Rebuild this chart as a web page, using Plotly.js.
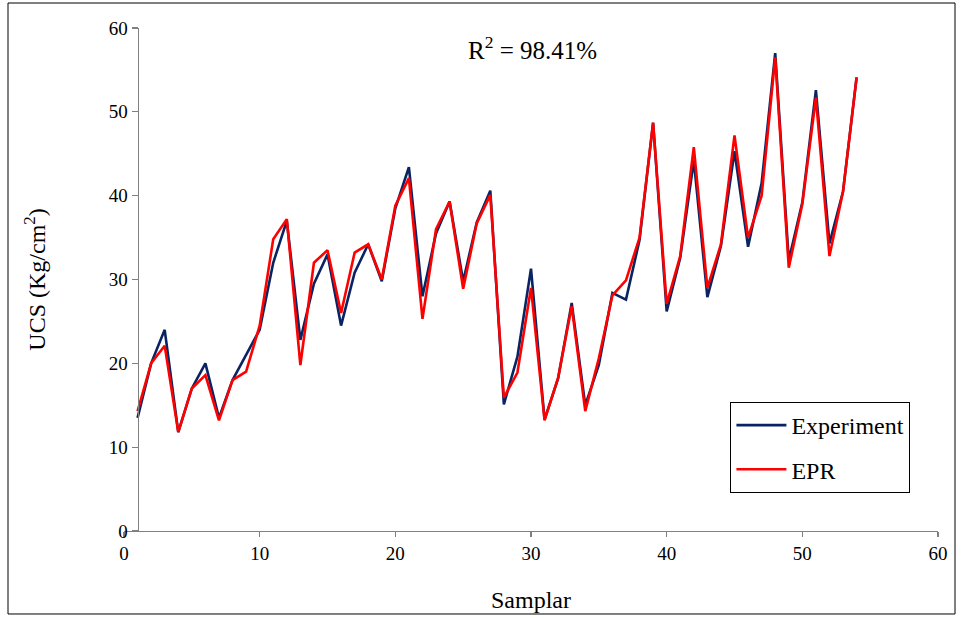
<!DOCTYPE html>
<html>
<head>
<meta charset="utf-8">
<script src="https://cdn.plot.ly/plotly-3.0.1.min.js"></script>
<style>html,body{margin:0;padding:0;background:#fff;}#chart{width:966px;height:618px;}</style>
</head>
<body>
<div id="chart"></div>
<script>
const samples = Array.from({length: 54}, (_, i) => i + 1);
const experiment = [13.5, 20, 24, 11.8, 17, 20, 13.5, 18, 21, 24,
  32, 37, 22.8, 29.5, 33, 24.5, 30.8, 34.2, 29.8, 38.5,
  43.4, 28, 35.5, 39.3, 29.8, 36.8, 40.6, 15.1, 20.8, 31.3,
  13.3, 18.2, 27.2, 15.0, 19.8, 28.4, 27.6, 34.7, 48.7, 26.2,
  32.6, 44.2, 27.9, 34.0, 45.3, 33.9, 41.5, 57.0, 32.3, 39.2,
  52.6, 34.3, 40.5, 54.1];
const epr = [14.3, 20, 22.1, 11.8, 17, 18.6, 13.2, 18, 19, 24.5,
  34.8, 37.2, 19.8, 32, 33.5, 26, 33.2, 34.2, 30, 38.8,
  42.1, 25.3, 36, 39.3, 28.9, 36.7, 40.1, 15.9, 18.9, 29,
  13.2, 18.3, 26.8, 14.3, 20.6, 28.1, 29.9, 35, 48.7, 27.1,
  32.8, 45.8, 29, 34.2, 47.2, 35, 40, 56.5, 31.4, 39,
  51.7, 32.8, 40.5, 54.1];
const xTicks = [0, 10, 20, 30, 40, 50, 60];
const yTicks = [0, 10, 20, 30, 40, 50, 60];

const font = '"Times New Roman", "Liberation Serif", serif';
const traces = [
  {x: samples, y: experiment, name: 'Experiment', type: 'scatter', mode: 'lines',
   legendgroup: 'a', line: {color: '#0a2463', width: 2.6}},
  {x: samples, y: epr, name: 'EPR', type: 'scatter', mode: 'lines',
   legendgroup: 'b', line: {color: '#ff0000', width: 2.6}}
];
const layout = {
  width: 966, height: 618,
  margin: {l: 124, r: 28, t: 28, b: 87},
  paper_bgcolor: '#fff', plot_bgcolor: '#fff',
  font: {family: font, color: '#000', size: 19},
  showlegend: true,
  legend: {x: 0.745, y: 0.2565, xanchor: 'left', yanchor: 'top',
    bordercolor: '#000', borderwidth: 1, bgcolor: '#fff', traceorder: 'grouped',
    font: {family: font, size: 24, color: '#000'}, tracegroupgap: 10,
    itemwidth: 50, entrywidth: 200, entrywidthmode: 'pixels'},
  xaxis: {range: [0, 60], tickvals: xTicks, ticktext: xTicks.map(String),
    showgrid: false, zeroline: false, showline: true, linecolor: '#808080', linewidth: 1.3,
    ticks: 'outside', ticklen: 5, tickcolor: '#808080', tickwidth: 1.3,
    tickfont: {family: font, size: 19, color: '#000'},
    title: {text: 'Samplar', font: {family: font, size: 24, color: '#000'}, standoff: 28}},
  yaxis: {range: [0, 60], tickvals: yTicks, ticktext: yTicks.map(String),
    anchor: 'free', position: 1/60,
    showgrid: false, zeroline: false, showline: true, linecolor: '#808080', linewidth: 1.3,
    ticks: 'outside', ticklen: 6, tickcolor: '#808080', tickwidth: 1.3,
    tickfont: {family: font, size: 19, color: '#000'},
    title: {text: 'UCS (Kg/cm<sup>2</sup>)', font: {family: font, size: 24, color: '#000'}, standoff: 55}},
  annotations: [{x: 30.1, y: 57.6, xref: 'x', yref: 'y', showarrow: false,
    text: 'R<sup>2</sup> = 98.41%', font: {family: font, size: 25, color: '#000'}}],
  shapes: [{type: 'rect', xref: 'paper', yref: 'paper',
    x0: -0.1425, x1: 1.0209, y0: -0.165, y1: 1.0497,
    line: {color: '#000', width: 1}}]
};
Plotly.newPlot('chart', traces, layout, {staticPlot: true, displayModeBar: false});
</script>
</body>
</html>
